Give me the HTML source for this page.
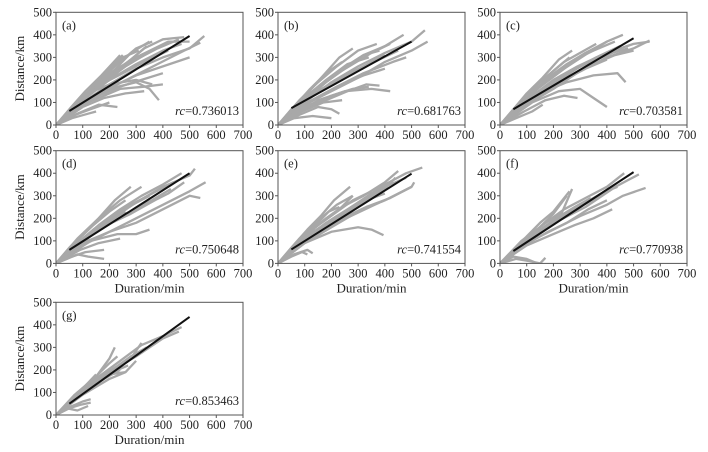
<!DOCTYPE html>
<html><head><meta charset="utf-8">
<style>
html,body{margin:0;padding:0;background:#fff;}
svg{display:block;font-family:"Liberation Serif",serif;}
</style></head>
<body>
<svg id="fig" width="708" height="452" viewBox="0 0 708 452"></svg>
<script>
// Panel metadata
const panelLabels = ["(a)","(b)","(c)","(d)","(e)","(f)","(g)"];
const rcValues = ["0.736013","0.681763","0.703581","0.750648","0.741554","0.770938","0.853463"];
const xTicks = [0,100,200,300,400,500,600,700];
const yTicks = [0,100,200,300,400,500];
// Fitted line endpoints [t0,d0,t1,d1]
const fitA = [50,62,500,395];
const fitB = [50,75,500,370];
const fitC = [50,70,500,385];
const fitD = [50,60,500,400];
const fitE = [50,62,500,398];
const fitF = [50,55,500,405];
const fitG = [50,50,500,435];
// Tracks: flat [t,d,t,d,...]
const tracksA = [
[0,0,50,60,100,120,150,180,200,250,250,310],
[0,0,60,70,120,140,200,220,280,320,350,370],
[0,0,80,90,160,170,250,260,330,340,400,380,480,390],
[0,0,100,100,200,180,300,250,400,300,500,340,555,395],
[0,0,90,80,180,150,280,210,380,270,480,330,540,365],
[0,0,100,90,200,160,300,190,350,160,385,110],
[0,0,80,50,160,90,230,80],
[0,0,60,30,120,50,150,60],
[0,0,70,90,140,170,220,260,300,340,360,370],
[0,0,100,110,200,200,300,270,400,330,470,360],
[0,0,120,100,240,160,330,170,400,180],
[0,0,90,100,180,190,260,260,330,310],
[0,0,110,130,200,220,280,290,340,350],
[0,0,60,40,130,70,200,100],
[0,0,50,70,110,150,170,220,240,310],
[0,0,100,120,200,230,300,300,420,370,500,370],
[0,0,120,140,200,180,300,200,360,180],
[0,0,60,80,130,160,190,240,250,300,310,330],
[0,0,70,85,150,170,230,240,300,290,380,340,460,380],
[0,0,90,100,170,180,250,230,330,280,420,330],
[0,0,80,70,160,130,240,170,320,200,400,230],
[0,0,100,80,180,120,260,140,330,150],
[0,0,50,60,100,110,160,170,210,210,270,280],
[0,0,110,110,210,170,300,220,400,260,500,300]
];
const tracksB = [
[0,0,50,70,110,140,170,220,230,300,280,340],
[0,0,80,100,160,180,240,250,320,310,400,350,470,400],
[0,0,100,100,200,190,300,260,400,320,500,370,550,420],
[0,0,100,90,200,150,300,210,400,280,500,330,560,370],
[0,0,90,70,180,110,260,150,330,180,380,175],
[0,0,70,40,150,80,200,70,230,50],
[0,0,60,30,130,40,200,30],
[0,0,80,110,150,190,220,260,300,330,370,360],
[0,0,120,130,220,200,320,260,400,310],
[0,0,100,120,180,200,260,270,340,300],
[0,0,150,110,250,150,350,160,420,150],
[0,0,60,80,120,160,180,230,240,280],
[0,0,110,100,220,170,320,230,430,280,480,300],
[0,0,90,60,170,100,240,110],
[0,0,130,150,230,240,320,310,380,330],
[0,0,70,90,140,160,210,220,280,270,350,320,420,360],
[0,0,90,95,180,170,270,230,360,280,450,330],
[0,0,80,70,160,130,240,180,320,220,400,250],
[0,0,60,70,120,130,180,190,250,250],
[0,0,100,80,200,130,280,160,340,170]
];
const tracksC = [
[0,0,50,70,100,140,160,210,220,290,270,330],
[0,0,80,100,160,180,240,250,320,320,400,370,460,400],
[0,0,100,100,200,180,300,260,400,320,500,360,560,370],
[0,0,100,90,200,160,300,240,400,300,500,340,560,375],
[0,0,120,100,220,150,300,160,350,120,400,80],
[0,0,90,60,170,110,240,130,290,120],
[0,0,60,30,120,60,160,90],
[0,0,80,110,160,200,240,280,300,320,360,360],
[0,0,120,130,220,210,320,270,420,320,480,340],
[0,0,100,120,180,210,250,270,320,320],
[0,0,150,140,250,190,350,220,440,230,470,190],
[0,0,60,80,130,170,200,240,260,300],
[0,0,110,110,220,190,330,260,430,310,500,330],
[0,0,90,90,170,160,230,220],
[0,0,140,160,240,250,330,320,400,370],
[0,0,70,85,140,160,210,230,280,290,350,330,430,370],
[0,0,90,95,180,170,270,240,360,300,450,350],
[0,0,80,80,160,140,240,200,320,250,400,290],
[0,0,100,110,200,200,290,260,380,310]
];
const tracksD = [
[0,0,50,70,110,140,160,200,220,280,280,340],
[0,0,80,90,160,170,240,240,320,300,400,350,470,400],
[0,0,100,100,200,190,300,270,400,340,500,390,520,420],
[0,0,100,80,200,140,300,200,400,260,500,320,560,360],
[0,0,100,90,200,140,300,180,400,240,500,300,540,290],
[0,0,90,60,160,90,240,110],
[0,0,60,30,110,50,180,60],
[0,0,40,20,80,40,120,30,180,20],
[0,0,80,110,160,200,240,280,320,340],
[0,0,120,120,220,190,320,250,420,310,480,360],
[0,0,130,100,230,130,300,130,350,150],
[0,0,70,90,140,170,200,230,260,280],
[0,0,110,110,220,190,330,260,430,330],
[0,0,150,140,250,210,340,270,380,290],
[0,0,70,80,140,150,210,210,280,260,360,310,440,360],
[0,0,90,100,180,180,270,250,350,300],
[0,0,60,60,120,120,190,180,260,230],
[0,0,100,100,190,170,280,220,370,280]
];
const tracksE = [
[0,0,50,70,110,150,160,210,210,280,270,340],
[0,0,80,100,160,180,240,250,320,300,400,360,450,410],
[0,0,100,100,200,190,300,270,400,350,480,400,540,425],
[0,0,100,90,200,160,300,230,400,280,500,340,510,360],
[0,0,100,90,200,140,300,160,350,150,395,125],
[0,0,60,40,110,60,130,45],
[0,0,50,30,90,50,110,40],
[0,0,80,110,160,200,220,260,280,300],
[0,0,120,130,220,210,320,280,420,350,480,380],
[0,0,100,120,170,190,230,240,280,300],
[0,0,140,130,240,200,330,250,420,290,500,340],
[0,0,70,90,140,170,190,230,230,250],
[0,0,110,120,220,200,320,270,400,330,440,380],
[0,0,150,150,250,220,330,280,400,310],
[0,0,70,85,140,160,210,220,280,280,350,320],
[0,0,90,100,180,180,260,240,340,300,420,360],
[0,0,60,75,120,140,180,200,240,250,300,290],
[0,0,110,110,200,170,290,220,380,270]
];
const tracksF = [
[0,0,50,60,100,120,150,180,200,230,260,320],
[0,0,80,100,160,170,240,240,320,290,400,340,465,400],
[0,0,100,100,200,180,300,250,400,320,480,370,520,395],
[0,0,100,90,200,150,300,210,400,260,460,300,545,335],
[0,0,100,80,200,130,280,170,350,200,420,240],
[0,0,50,30,100,20,130,5],
[0,0,60,20,110,10,150,0,170,25],
[0,0,70,80,140,150,200,220,250,300],
[0,0,120,120,220,190,320,250,420,330],
[0,0,100,110,170,180,230,220,270,330],
[0,0,90,80,180,140,250,180,330,240,400,280],
[0,0,60,70,110,120,150,160],
[0,0,110,110,220,200,320,270,420,330,440,340],
[0,0,70,80,140,140,210,200,280,250,340,290],
[0,0,90,90,170,160,250,220,320,270,380,310],
[0,0,60,65,120,120,180,170,240,210]
];
const tracksG = [
[0,0,50,60,100,120,150,170,200,250,220,300],
[0,0,80,100,160,170,240,240,320,310,400,350,470,390],
[0,0,100,110,200,190,300,260,400,340,460,370],
[0,0,100,90,200,160,260,190,300,240],
[0,0,60,40,100,60,130,70],
[0,0,50,30,90,45,130,55],
[0,0,70,90,140,160,200,230,230,260],
[0,0,120,130,220,210,280,250,320,320],
[0,0,90,90,160,150,230,200,270,220],
[0,0,60,70,110,130,150,180],
[0,0,110,120,200,180,260,190],
[0,0,40,30,80,20,120,40],
[0,0,70,80,140,140,210,200,280,260,340,300],
[0,0,80,85,160,160,240,220,300,270],
[0,0,60,60,120,110,180,160,240,200]
];
const fits = [fitA,fitB,fitC,fitD,fitE,fitF,fitG];
const tracks = [tracksA,tracksB,tracksC,tracksD,tracksE,tracksF,tracksG];
const colX = [56,278,500];
const rowTop = [12.3,150.7,302.3];
const PW = 187, PH = 112.7;
const NS = "http://www.w3.org/2000/svg";
const svg = document.getElementById('fig');
function mk(tag, attrs, parent){const e=document.createElementNS(NS,tag);for(const k in attrs)e.setAttribute(k,attrs[k]);(parent||svg).appendChild(e);return e;}

for(let p=0;p<7;p++){
  const x0 = colX[p%3], y0 = rowTop[Math.floor(p/3)];
  const xs = t => x0 + t/700*PW;
  const ys = d => y0 + PH - d/500*PH;
  const g = mk('g',{});
  
  
  const clipId='clip'+p;
  const cp=mk('clipPath',{id:clipId},g);mk('rect',{x:x0,y:y0,width:PW,height:PH},cp);
  const tg=mk('g',{'clip-path':'url(#'+clipId+')'},g);
  tracks[p].forEach((tr,i)=>{
    let pts=[];for(let k=0;k<tr.length;k+=2)pts.push(xs(tr[k]).toFixed(1)+','+ys(tr[k+1]).toFixed(1));
    const pl=mk('polyline',{points:pts.join(' '),fill:'none',stroke:'#a8a8a8','stroke-width':2.3,'stroke-linejoin':'round'},tg);
    
    
  });
  const f=fits[p];
  const fl=mk('line',{x1:xs(f[0]),y1:ys(f[1]),x2:xs(f[2]),y2:ys(f[3]),stroke:'#111','stroke-width':2},g);
  
  
  const fr=mk('rect',{x:x0,y:y0,width:PW,height:PH,fill:'none',stroke:'#555','stroke-width':1},g);
  
  
  xTicks.forEach(t=>{
    mk('line',{x1:xs(t),y1:y0+PH,x2:xs(t),y2:y0+PH+3,stroke:'#555'},g);
    const tx=mk('text',{x:xs(t),y:y0+PH+14,'font-size':12.5,'text-anchor':'middle',fill:'#222'},g);
    tx.textContent=t;
    
    
  });
  yTicks.forEach(d=>{
    mk('line',{x1:x0-3,y1:ys(d),x2:x0,y2:ys(d),stroke:'#555'},g);
    const tx=mk('text',{x:x0-4,y:ys(d)+4,'font-size':12.5,'text-anchor':'end',fill:'#222'},g);
    tx.textContent=d;
    
    
  });
  const lb=mk('text',{x:x0+6,y:y0+17,'font-size':12.5,fill:'#222'},g);
  lb.textContent=panelLabels[p];
  
  
  const rc=mk('text',{x:x0+PW-4,y:y0+PH-10,'font-size':12.5,'text-anchor':'end',fill:'#222'},g);
  rc.innerHTML='<tspan font-style="italic">rc</tspan>=' + rcValues[p];
  
  
  if(p%3===0){
    const yt=mk('text',{x:0,y:0,'font-size':13,'text-anchor':'middle',fill:'#222',transform:'translate(24,'+(y0+PH/2)+') rotate(-90)'},g);
    yt.textContent='Distance/km';
    
    
  }
  if(p>=3){
    const xt=mk('text',{x:x0+PW/2,y:y0+PH+29,'font-size':13,'text-anchor':'middle',fill:'#222'},g);
    xt.textContent='Duration/min';
    
    
  }
}
</script>
</body></html>
